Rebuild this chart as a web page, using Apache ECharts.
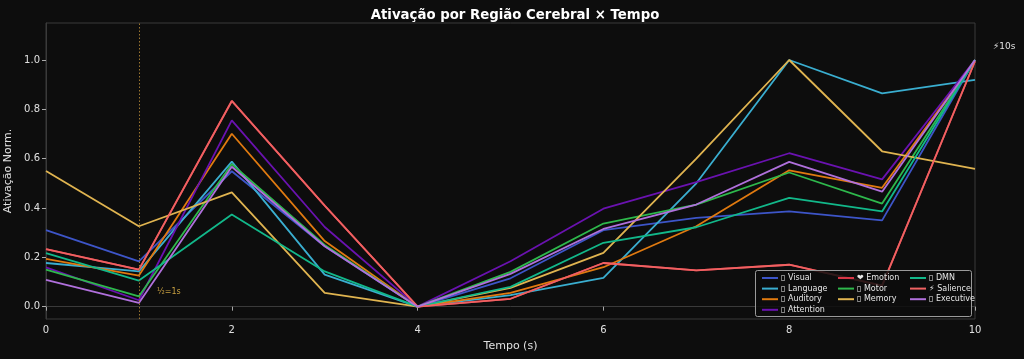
<!DOCTYPE html>
<html><head><meta charset="utf-8">
<script src="https://cdn.jsdelivr.net/npm/echarts@6/dist/echarts.min.js"></script>
<style>html,body{margin:0;padding:0;background:#0d0d0d;}#c{width:1024px;height:359px;}</style>
</head><body><div id="c"></div>
<script>
const times = [0,1,2,3,4,5,6,7,8,9,10];
const xTicks = [0,2,4,6,8,10];
const yTicks = [0.0,0.2,0.4,0.6,0.8,1.0];

const visual    = [0.310,0.184,0.549,0.245,0,0.115,0.310,0.360,0.386,0.350,1.000];
const language  = [0.177,0.143,0.588,0.130,0,0.047,0.117,0.500,1.000,0.865,0.919];
const auditory  = [0.194,0.126,0.701,0.266,0,0.056,0.160,0.326,0.553,0.482,1.000];
const attention = [0.159,0.026,0.755,0.323,0,0.184,0.397,0.505,0.622,0.516,1.000];
const emotion   = [0.233,0.150,0.834,0.410,0,0.032,0.177,0.147,0.170,0.085,0.995];
const motor     = [0.150,0.042,0.578,0.250,0,0.141,0.337,0.414,0.544,0.418,1.000];
const memory    = [0.550,0.326,0.463,0.056,0,0.076,0.218,0.600,1.000,0.630,0.559];
const dmn       = [0.217,0.106,0.374,0.143,0,0.080,0.259,0.322,0.441,0.386,1.000];
const salience  = [0.233,0.150,0.834,0.410,0,0.032,0.177,0.147,0.170,0.085,0.995];
const executive = [0.109,0.015,0.567,0.245,0,0.133,0.315,0.414,0.587,0.466,1.000];

const names = ['▯ Visual','▯ Language','▯ Auditory','▯ Attention','❤ Emotion','▯ Motor','▯ Memory','▯ DMN','⚡ Salience','▯ Executive'];
const values = [visual,language,auditory,attention,emotion,motor,memory,dmn,salience,executive];
const colors = ['#3d55c8','#3aaed0','#e07a10','#6a12b0','#d63545','#2eb84c','#e0b450','#12b88a','#f06262','#b070dc'];

const font = 'DejaVu Sans';
const series = names.map((n,i)=>({
  name:n, type:'line', showSymbol:false, symbol:'none',
  data: times.map((t,j)=>[t, values[i][j]]),
  lineStyle:{width:1.8,color:colors[i]}, itemStyle:{color:colors[i]},
  z: 2, animation:false,
  markLine: i===0 ? {silent:true, symbol:'none', label:{show:false},
    lineStyle:{type:[1.5,2],color:'#9a7530',width:1}, data:[{xAxis:1}]} : undefined
}));

const legendBase = {orient:'vertical', itemWidth:16, itemHeight:2, itemGap:2.6, z:20,
  icon:'rect', textStyle:{color:'#e6e6e6',fontSize:8,fontFamily:font,padding:[0,0,0,-2]}, top:269};
const chart = echarts.init(document.getElementById('c'),null,{renderer:'canvas'});
chart.setOption({
  backgroundColor:'#0d0d0d',
  animation:false,
  title:{text:'Ativação por Região Cerebral × Tempo', left:510, textAlign:'center', top:4,
    textStyle:{color:'#ffffff',fontSize:13.3,fontWeight:'bold',fontFamily:font}},
  grid:{left:46,right:49,top:23,bottom:40,show:true,borderColor:'#3a3a3a',borderWidth:1,
    backgroundColor:'transparent',containLabel:false,outerBoundsMode:'none'},
  xAxis:{type:'value',min:0,max:10,interval:2,
    name:'Tempo (s)',nameLocation:'middle',nameGap:22,
    nameTextStyle:{color:'#e0e0e0',fontSize:11,fontFamily:font},
    axisLine:{show:true,lineStyle:{color:'#3a3a3a'}},
    axisTick:{show:true,length:4,lineStyle:{color:'#aaaaaa'}},
    axisLabel:{color:'#e0e0e0',fontSize:10,fontFamily:font,margin:6},
    splitLine:{show:false}},
  yAxis:{type:'value',min:-0.05,max:1.15,
    name:'Ativação Norm.',nameLocation:'middle',nameGap:28,
    nameTextStyle:{color:'#e0e0e0',fontSize:11,fontFamily:font},
    axisLine:{show:true,lineStyle:{color:'#3a3a3a'}},
    axisTick:{show:true,length:4,lineStyle:{color:'#aaaaaa'},customValues:yTicks},
    axisLabel:{color:'#e0e0e0',fontSize:10,fontFamily:font,margin:6,customValues:yTicks,
      formatter:v=>v.toFixed(1)},
    splitLine:{show:false}},
  legend:[
    Object.assign({},legendBase,{left:757,data:names.slice(0,4)}),
    Object.assign({},legendBase,{left:833,data:names.slice(4,7)}),
    Object.assign({},legendBase,{left:905,data:names.slice(7,10)})
  ],
  graphic:[
    {type:'rect',left:755,top:270,shape:{width:216,height:46,r:2},
      style:{fill:'rgba(13,13,13,0.85)',stroke:'#9a9a9a',lineWidth:1},z:10},
    {type:'text',left:157,top:288,style:{text:'½=1s',fill:'#c8a040',fontSize:8,fontFamily:font},z:60},
    {type:'text',left:993,top:42,style:{text:'⚡10s',fill:'#e0e0e0',fontSize:9,fontFamily:font},z:60}
  ],
  series:series
});
</script></body></html>
